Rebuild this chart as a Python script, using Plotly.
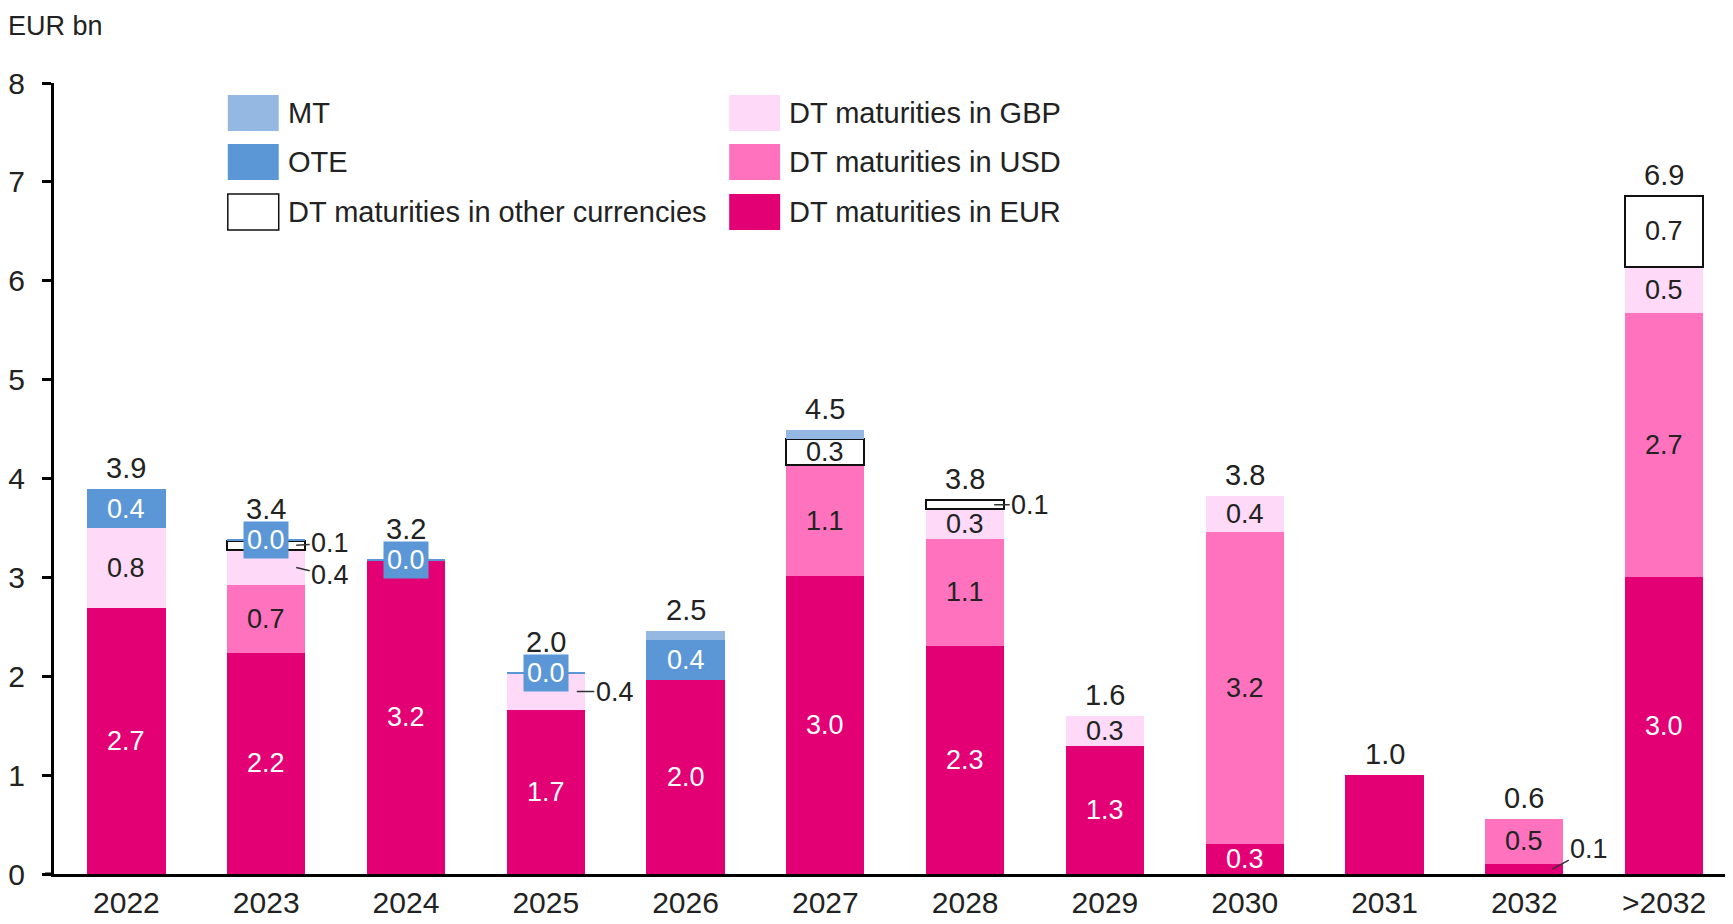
import plotly.graph_objects as go

# ---------------- data ----------------
categories = ["2022", "2023", "2024", "2025", "2026", "2027", "2028", "2029", "2030", "2031", "2032", ">2032"]
eur   = [2.69, 2.24, 3.17, 1.66, 1.96, 3.01, 2.31, 1.29, 0.30, 1.00, 0.10, 3.00]
usd   = [0.00, 0.68, 0.00, 0.00, 0.00, 1.13, 1.08, 0.00, 3.16, 0.00, 0.46, 2.67]
gbp   = [0.81, 0.36, 0.00, 0.37, 0.00, 0.00, 0.30, 0.31, 0.36, 0.00, 0.00, 0.47]
other = [0.00, 0.09, 0.00, 0.00, 0.00, 0.26, 0.09, 0.00, 0.00, 0.00, 0.00, 0.72]
ote   = [0.39, 0.02, 0.02, 0.01, 0.41, 0.00, 0.00, 0.00, 0.00, 0.00, 0.00, 0.00]
mt    = [0.00, 0.00, 0.00, 0.00, 0.09, 0.09, 0.00, 0.00, 0.00, 0.00, 0.00, 0.00]

series_names = ["DT maturities in EUR", "DT maturities in USD", "DT maturities in GBP",
                "DT maturities in other currencies", "OTE", "MT"]
series_vals = [eur, usd, gbp, other, ote, mt]

# ---------------- style ----------------
FONT = "Liberation Sans, Arial, sans-serif"
TXT = "#222222"
colors = ["#E20074", "#FF72BD", "#FFDAF8", "#FFFFFF", "#5B97D6", "#95B8E2"]
line_colors = ["#E20074", "#FF72BD", "#FFDAF8", "#111111", "#5B97D6", "#95B8E2"]
line_widths = [0, 0, 0, 2, 0, 0]
label_colors = ["white", TXT, TXT, TXT, "white", TXT]
LBL = 27

# which segments get an inside label (series index -> category indexes)
inside = {0: [0, 1, 2, 3, 4, 5, 6, 7, 8, 11], 1: [1, 5, 6, 8, 10, 11],
          2: [0, 6, 7, 8, 11], 3: [5, 11], 4: [0, 4]}
boxed = {4: [1, 2, 3]}
# outside labels with leader lines: (series, cat) -> (xshift, ax, ay)
outside = {(3, 1): (30, 34, -2), (2, 1): (30, 34, 8), (2, 3): (31, 38, 0),
           (3, 6): (29, 36, 0), (0, 10): (28, 37, -20)}

# page geometry (pixels, as seen on the page; the page body adds an 8px offset)
OFF = 8
PW, PH = 1733, 924
PL, PT, PR, PB = 52, 83, 1733, 874     # plot area on the page
FW, FH = PW - OFF, PH - OFF
L, T = PL - OFF, PT - OFF
W, H = PR - PL, PB - PT


def px(x):
    return (x - PL) / W


def py(y):
    return (PB - y) / H


fig = go.Figure()
for name, vals, c, lc, lw in zip(series_names, series_vals, colors, line_colors, line_widths):
    fig.add_trace(go.Bar(
        x=categories, y=[v if v > 0 else None for v in vals], name=name, width=0.56,
        marker=dict(color=c, line=dict(color=lc, width=lw)),
        showlegend=False, hoverinfo="x+y+name",
    ))

annotations = []
bases = [0.0] * len(categories)
for s, vals in enumerate(series_vals):
    for i, v in enumerate(vals):
        mid = bases[i] + v / 2
        if i in inside.get(s, []):
            annotations.append(dict(x=i, y=mid, text=f"{v:.1f}", showarrow=False,
                                    font=dict(family=FONT, size=LBL, color=label_colors[s])))
        elif i in boxed.get(s, []):
            annotations.append(dict(x=i, y=mid, text=f"{v:.1f}", showarrow=False,
                                    bgcolor=colors[s], borderpad=3,
                                    font=dict(family=FONT, size=LBL, color="white")))
        elif (s, i) in outside:
            xs, ax, ay = outside[(s, i)]
            annotations.append(dict(x=i, y=mid, text=f"{v:.1f}", showarrow=True,
                                    arrowhead=0, arrowwidth=1.5, arrowcolor="#333333",
                                    xshift=xs, ax=ax, ay=ay, standoff=0,
                                    font=dict(family=FONT, size=LBL, color=TXT)))
    bases = [b + v for b, v in zip(bases, vals)]

totals = bases
for i, t in enumerate(totals):
    extra = 12 if i in boxed[4] else 3
    annotations.append(dict(x=i, y=t, text=f"{t:.1f}", showarrow=False,
                            yanchor="bottom", yshift=extra,
                            font=dict(family=FONT, size=29, color=TXT)))

# unit label
annotations.append(dict(xref="paper", yref="paper", x=px(4), y=py(OFF + 1), xanchor="left",
                        yanchor="top", text="EUR bn", showarrow=False,
                        font=dict(family=FONT, size=27, color=TXT)))

# manual legend
shapes = []
legend_items = [
    ("MT", 5, 0, 0), ("OTE", 4, 0, 1), ("DT maturities in other currencies", 3, 0, 2),
    ("DT maturities in GBP", 2, 1, 0), ("DT maturities in USD", 1, 1, 1), ("DT maturities in EUR", 0, 1, 2),
]
col_x = [226, 728]
row_y = [95, 144, 194]
for label, s, col, row in legend_items:
    x0 = col_x[col]
    y0 = row_y[row]
    shapes.append(dict(type="rect", xref="paper", yref="paper",
                       x0=px(x0), x1=px(x0 + 51), y0=py(y0 + 36), y1=py(y0),
                       fillcolor=colors[s],
                       line=dict(color="#111111" if s == 3 else colors[s], width=1.5 if s == 3 else 0)))
    annotations.append(dict(xref="paper", yref="paper", x=px(x0 + 58), y=py(y0 + 18),
                            xanchor="left", yanchor="middle", text=label, showarrow=False,
                            font=dict(family=FONT, size=29, color=TXT)))

# x-axis line stub extending left of the y-axis
shapes.append(dict(type="line", xref="paper", yref="paper", x0=px(43), x1=px(PL), y0=0, y1=0,
                   line=dict(color="black", width=3)))

fig.update_layout(
    width=FW, height=FH,
    margin=dict(l=L, r=FW - L - W, t=T, b=FH - T - H, pad=0),
    barmode="stack",
    plot_bgcolor="white", paper_bgcolor="white",
    font=dict(family=FONT, size=30, color=TXT),
    annotations=annotations, shapes=shapes,
    xaxis=dict(type="category", categoryorder="array", categoryarray=categories,
               range=[-0.518, 11.493], showline=True, linecolor="black", linewidth=3,
               ticks="", showgrid=False, zeroline=False,
               tickfont=dict(family=FONT, size=30, color=TXT), ticklabelstandoff=0),
    yaxis=dict(range=[0, 8], dtick=1, showline=True, linecolor="black", linewidth=3,
               ticks="outside", ticklen=9, tickwidth=3, tickcolor="black",
               showgrid=False, zeroline=False,
               tickfont=dict(family=FONT, size=30, color=TXT), ticklabelstandoff=11),
)

fig.write_html("out.html")
